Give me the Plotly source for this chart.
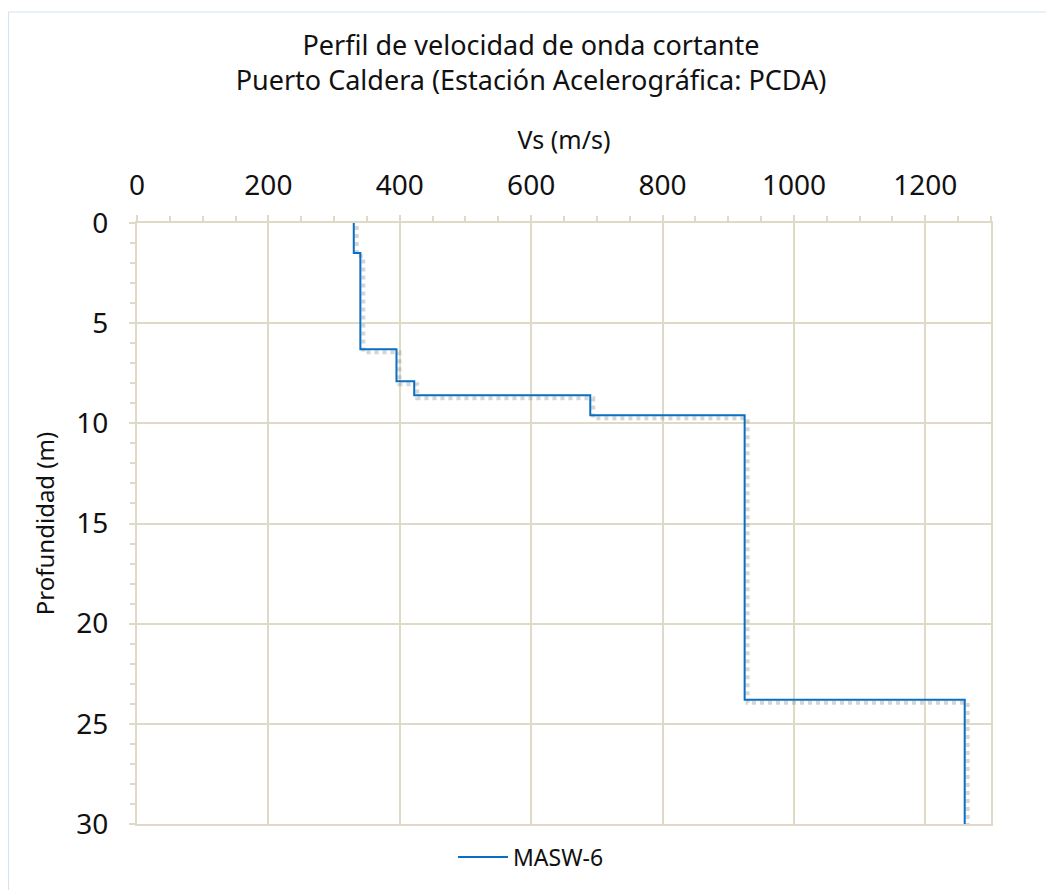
import plotly.graph_objects as go

# Layer data (MASW-6)
layer_top_m = [0, 1.5, 6.3, 7.9, 8.6, 9.6, 23.8]
layer_vs = [330, 340, 395, 422, 690, 925, 1260]
max_depth = 30

x_ticks = [0, 200, 400, 600, 800, 1000, 1200]
y_ticks = [0, 5, 10, 15, 20, 25, 30]

xs = layer_vs + [layer_vs[-1]]
ys = layer_top_m + [max_depth]

FONT = "Noto Sans"
GRID = "#DEDAC6"
BLUE = "#0A6FC2"
TXT = "#111111"

# page has an 8px body margin, so the figure is sized/positioned to compensate
W, H = 1046, 882
L, T = 129, 215
PW, PH = 854, 601

# shadow offset (small, in data units) for the Excel-like drop shadow
sx, sy = 4.5, 0.15

fig = go.Figure()
fig.add_trace(go.Scatter(
    x=[v + sx for v in xs], y=[d + sy for d in ys], mode="lines", line_shape="vh",
    line=dict(color="rgba(150,150,150,0.4)", width=4, dash="dot"),
    showlegend=False, hoverinfo="skip"))
fig.add_trace(go.Scatter(
    x=xs, y=ys, mode="lines", line_shape="vh",
    line=dict(color=BLUE, width=2), name="MASW-6"))

fig.update_layout(
    width=W, height=H,
    paper_bgcolor="white", plot_bgcolor="white",
    margin=dict(l=L, r=W - L - PW, t=T, b=H - T - PH, autoexpand=False),
    font=dict(family=FONT, color=TXT, size=22),
    title=dict(text="Perfil de velocidad de onda cortante<br>Puerto Caldera (Estación Acelerográfica: PCDA)",
               x=0.5, xref="container", xanchor="center",
               y=1 - 46.5 / H, yref="container", yanchor="middle",
               font=dict(family=FONT, size=27, color=TXT)),
    legend=dict(orientation="h", xref="container", yref="container",
                x=0.5, xanchor="center", y=1 - 849 / H, yanchor="middle",
                itemwidth=50,
                font=dict(size=23), bgcolor="rgba(0,0,0,0)"),
    shapes=[dict(type="rect", xref="paper", yref="paper",
                 x0=(0.5 - L) / PW, x1=(W + 10 - L) / PW,
                 y0=-(H + 10 - T - PH) / PH, y1=1 + (T - 4) / PH,
                 line=dict(color="#D3E2F1", width=1), fillcolor="rgba(0,0,0,0)", layer="below")],
)

fig.update_xaxes(
    side="top", range=[0, 1300], tickvals=x_ticks, automargin=False,
    showgrid=True, gridcolor=GRID, gridwidth=2,
    showline=True, linecolor=GRID, linewidth=2, mirror=True,
    ticks="outside", ticklen=6, tickcolor=GRID, tickwidth=2,
    minor=dict(dtick=50, ticks="outside", ticklen=5, tickcolor=GRID, tickwidth=2, showgrid=False),
    tickfont=dict(size=28, family=FONT, color=TXT),
    ticklabelstandoff=9,
    title=dict(text="Vs (m/s)", font=dict(size=25, family=FONT, color=TXT), standoff=8),
    zeroline=False,
)
fig.update_yaxes(
    range=[max_depth, 0], tickvals=y_ticks, automargin=False,
    showgrid=True, gridcolor=GRID, gridwidth=2,
    showline=True, linecolor=GRID, linewidth=2, mirror=True,
    ticks="outside", ticklen=6, tickcolor=GRID, tickwidth=2,
    minor=dict(dtick=1, ticks="outside", ticklen=5, tickcolor=GRID, tickwidth=2, showgrid=False),
    tickfont=dict(size=28, family=FONT, color=TXT),
    ticklabelstandoff=15,
    title=dict(text="Profundidad (m)", font=dict(size=24, family=FONT, color=TXT), standoff=15),
    zeroline=False,
)

fig.write_html("out.html")
